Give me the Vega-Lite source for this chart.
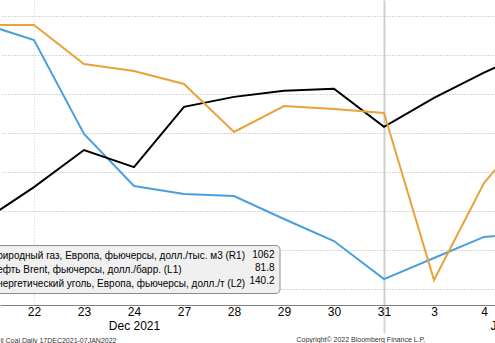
{
  "$schema": "https://vega.github.io/schema/vega-lite/v6.json",
  "width": 495,
  "height": 305,
  "autosize": {"type": "none"},
  "padding": {"left": 0, "top": 0, "right": 0, "bottom": 38},
  "background": "#ffffff",
  "config": {"view": {"stroke": null}},
  "data": {
    "values": [
      {"series": "Природный газ, Европа, фьючерсы, долл./тыс. м3 (R1)", "date": "2021-12-21", "i": -1, "v": 2159},
      {"series": "Природный газ, Европа, фьючерсы, долл./тыс. м3 (R1)", "date": "2021-12-22", "i": 0, "v": 2077},
      {"series": "Природный газ, Европа, фьючерсы, долл./тыс. м3 (R1)", "date": "2021-12-23", "i": 1, "v": 1595},
      {"series": "Природный газ, Европа, фьючерсы, долл./тыс. м3 (R1)", "date": "2021-12-24", "i": 2, "v": 1328},
      {"series": "Природный газ, Европа, фьючерсы, долл./тыс. м3 (R1)", "date": "2021-12-27", "i": 3, "v": 1287},
      {"series": "Природный газ, Европа, фьючерсы, долл./тыс. м3 (R1)", "date": "2021-12-28", "i": 4, "v": 1277},
      {"series": "Природный газ, Европа, фьючерсы, долл./тыс. м3 (R1)", "date": "2021-12-29", "i": 5, "v": 1159},
      {"series": "Природный газ, Европа, фьючерсы, долл./тыс. м3 (R1)", "date": "2021-12-30", "i": 6, "v": 1046},
      {"series": "Природный газ, Европа, фьючерсы, долл./тыс. м3 (R1)", "date": "2021-12-31", "i": 7, "v": 851},
      {"series": "Природный газ, Европа, фьючерсы, долл./тыс. м3 (R1)", "date": "2022-01-03", "i": 8, "v": 959},
      {"series": "Природный газ, Европа, фьючерсы, долл./тыс. м3 (R1)", "date": "2022-01-04", "i": 9, "v": 1067},
      {"series": "Природный газ, Европа, фьючерсы, долл./тыс. м3 (R1)", "date": "2022-01-05", "i": 10, "v": 1087},
      {"series": "Нефть Brent, фьючерсы, долл./барр. (L1)", "date": "2021-12-21", "i": -1, "v": 73.97},
      {"series": "Нефть Brent, фьючерсы, долл./барр. (L1)", "date": "2021-12-22", "i": 0, "v": 75.33},
      {"series": "Нефть Brent, фьючерсы, долл./барр. (L1)", "date": "2021-12-23", "i": 1, "v": 76.85},
      {"series": "Нефть Brent, фьючерсы, долл./барр. (L1)", "date": "2021-12-24", "i": 2, "v": 76.15},
      {"series": "Нефть Brent, фьючерсы, долл./барр. (L1)", "date": "2021-12-27", "i": 3, "v": 78.62},
      {"series": "Нефть Brent, фьючерсы, долл./барр. (L1)", "date": "2021-12-28", "i": 4, "v": 79.03},
      {"series": "Нефть Brent, фьючерсы, долл./барр. (L1)", "date": "2021-12-29", "i": 5, "v": 79.28},
      {"series": "Нефть Brent, фьючерсы, долл./барр. (L1)", "date": "2021-12-30", "i": 6, "v": 79.36},
      {"series": "Нефть Brent, фьючерсы, долл./барр. (L1)", "date": "2021-12-31", "i": 7, "v": 77.8},
      {"series": "Нефть Brent, фьючерсы, долл./барр. (L1)", "date": "2022-01-03", "i": 8, "v": 78.99},
      {"series": "Нефть Brent, фьючерсы, долл./барр. (L1)", "date": "2022-01-04", "i": 9, "v": 80.02},
      {"series": "Нефть Brent, фьючерсы, долл./барр. (L1)", "date": "2022-01-05", "i": 10, "v": 80.97},
      {"series": "Энергетический уголь, Европа, фьючерсы, долл./т (L2)", "date": "2021-12-21", "i": -1, "v": 171},
      {"series": "Энергетический уголь, Европа, фьючерсы, долл./т (L2)", "date": "2021-12-22", "i": 0, "v": 171},
      {"series": "Энергетический уголь, Европа, фьючерсы, долл./т (L2)", "date": "2021-12-23", "i": 1, "v": 163.2},
      {"series": "Энергетический уголь, Европа, фьючерсы, долл./т (L2)", "date": "2021-12-24", "i": 2, "v": 161.8},
      {"series": "Энергетический уголь, Европа, фьючерсы, долл./т (L2)", "date": "2021-12-27", "i": 3, "v": 159.2},
      {"series": "Энергетический уголь, Европа, фьючерсы, долл./т (L2)", "date": "2021-12-28", "i": 4, "v": 149.6},
      {"series": "Энергетический уголь, Европа, фьючерсы, долл./т (L2)", "date": "2021-12-29", "i": 5, "v": 154.8},
      {"series": "Энергетический уголь, Европа, фьючерсы, долл./т (L2)", "date": "2021-12-30", "i": 6, "v": 154.2},
      {"series": "Энергетический уголь, Европа, фьючерсы, долл./т (L2)", "date": "2021-12-31", "i": 7, "v": 153.4},
      {"series": "Энергетический уголь, Европа, фьючерсы, долл./т (L2)", "date": "2022-01-03", "i": 8, "v": 120},
      {"series": "Энергетический уголь, Европа, фьючерсы, долл./т (L2)", "date": "2022-01-04", "i": 9, "v": 139.4},
      {"series": "Энергетический уголь, Европа, фьючерсы, долл./т (L2)", "date": "2022-01-05", "i": 10, "v": 151.2}
    ]
  },
  "encoding": {
    "x": {
      "field": "i",
      "type": "quantitative",
      "scale": {"domain": [-0.68, 9.22], "nice": false, "zero": false},
      "axis": {
        "values": [0, 1, 2, 3, 4, 5, 6, 7, 8, 9, 9.12],
        "labelExpr": "datum.value == 2 ? ['24', 'Dec 2021'] : datum.value > 9.05 ? ['', 'Jan 2022'] : ['22','23','24','27','28','29','30','31','3','4'][datum.value]",
        "labelFont": "Liberation Sans",
        "labelFontSize": 12,
        "labelColor": "#000000",
        "labelLineHeight": 14,
        "labelBaseline": "top",
        "labelPadding": -27,
        "labelFlush": false,
        "labelOverlap": false,
        "labelAlign": {"condition": {"test": "datum.value > 9.05", "value": "left"}, "value": "center"},
        "ticks": true,
        "tickSize": 28,
        "tickWidth": 2,
        "tickColor": {"condition": {"test": "datum.value == 7", "value": "#d6d6d6"}, "value": "transparent"},
        "grid": true,
        "gridColor": {"condition": {"test": "datum.value == 0 || datum.value == 7", "value": "#cfcfcf"}, "value": "transparent"},
        "gridDash": {"condition": {"test": "datum.value == 0", "value": [1, 2]}, "value": []},
        "gridWidth": {"condition": {"test": "datum.value == 7", "value": 2}, "value": 1},
        "domainColor": "#808080",
        "domainWidth": 1,
        "title": "il Coal  Daily 17DEC2021-07JAN2022",
        "titleFont": "Liberation Sans",
        "titleFontSize": 7,
        "titleFontWeight": "normal",
        "titleColor": "#333333",
        "titleX": 0,
        "titleY": 37,
        "titleAlign": "left",
        "titleBaseline": "alphabetic",
        "titleAnchor": null
      }
    },
    "color": {
      "field": "series",
      "type": "nominal",
      "scale": {
        "domain": ["Природный газ, Европа, фьючерсы, долл./тыс. м3 (R1)", "Нефть Brent, фьючерсы, долл./барр. (L1)", "Энергетический уголь, Европа, фьючерсы, долл./т (L2)"],
        "range": ["#4a9fdc", "#000000", "#e8a33c"]
      },
      "legend": {
        "orient": "none",
        "legendX": -30.5,
        "legendY": 245,
        "direction": "vertical",
        "title": ["1062", "81.8", "140.2"],
        "titleOrient": "right",
        "titleAlign": "right",
        "titleAnchor": "start",
        "titleBaseline": "top",
        "titleLineHeight": 13,
        "titlePadding": 29.5,
        "titleFont": "Liberation Sans",
        "titleFontSize": 10,
        "titleFontWeight": "normal",
        "titleColor": "#000000",
        "fillColor": "#f0f0f0",
        "strokeColor": "#8c8c8c",
        "cornerRadius": 4,
        "padding": 4.5,
        "rowPadding": 3,
        "symbolType": "stroke",
        "symbolStrokeWidth": 2,
        "symbolSize": 100,
        "labelFont": "Liberation Sans",
        "labelFontSize": 10,
        "labelColor": "#000000",
        "labelLimit": 600
      }
    }
  },
  "layer": [
    {
      "transform": [{"filter": "datum.series == 'Природный газ, Европа, фьючерсы, долл./тыс. м3 (R1)'"}],
      "mark": {"type": "line", "strokeWidth": 2, "clip": true},
      "encoding": {
        "y": {
          "field": "v",
          "type": "quantitative",
          "scale": {"domain": [718, 2282], "nice": false, "zero": false},
          "axis": {
            "orient": "right",
            "values": [800, 1000, 1200, 1400, 1600, 1800, 2000, 2200],
            "grid": true,
            "gridColor": "#b0b0b0",
            "gridDash": [1, 2],
            "gridWidth": 1,
            "labels": false,
            "ticks": false,
            "domain": false,
            "title": null
          }
        }
      }
    },
    {
      "transform": [{"filter": "datum.series == 'Нефть Brent, фьючерсы, долл./барр. (L1)'"}],
      "mark": {"type": "line", "strokeWidth": 2, "clip": true},
      "encoding": {
        "y": {
          "field": "v",
          "type": "quantitative",
          "scale": {"domain": [70.5, 83.0], "nice": false, "zero": false},
          "axis": {
            "orient": "left",
            "grid": false,
            "labels": false,
            "ticks": false,
            "domain": false,
            "title": "Copyright© 2022 Bloomberg Finance L.P.",
            "titleFont": "Liberation Sans",
            "titleFontSize": 7,
            "titleFontWeight": "normal",
            "titleColor": "#333333",
            "titleAngle": 0,
            "titleX": 296,
            "titleY": 341.5,
            "titleAlign": "left",
            "titleBaseline": "alphabetic",
            "titleAnchor": null
          }
        }
      }
    },
    {
      "transform": [{"filter": "datum.series == 'Энергетический уголь, Европа, фьючерсы, долл./т (L2)'"}],
      "mark": {"type": "line", "strokeWidth": 2, "clip": true},
      "encoding": {
        "y": {
          "field": "v",
          "type": "quantitative",
          "scale": {"domain": [115, 176], "nice": false, "zero": false},
          "axis": null
        }
      }
    }
  ],
  "resolve": {"scale": {"y": "independent"}, "axis": {"y": "independent"}}
}
